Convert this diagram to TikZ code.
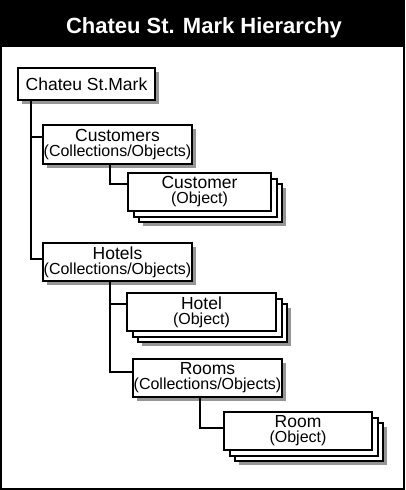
\documentclass[tikz,border=0pt]{standalone}
\usepackage{fontspec}
\setmainfont{Liberation Sans}
\usetikzlibrary{calc,shadows}
\definecolor{shgray}{RGB}{150,150,150}
\newcommand{\mainf}{\fontsize{17.5}{15}\selectfont}
\newcommand{\subf}{\fontsize{16}{15.5}\selectfont}
\begin{document}
\begin{tikzpicture}[x=1pt,y=-1pt,
  box/.style={draw=black, line width=2pt, fill=white, inner sep=0pt, outer sep=0pt,
    anchor=north west, align=center, font=\mainf},
  shadowed/.style={drop shadow={shadow xshift=4pt, shadow yshift=-4pt, fill=shgray, opacity=1}},
  wide/.style={minimum width=149pt, minimum height=38pt},
  objbox/.style={minimum width=143pt, minimum height=38pt},
  conn/.style={line width=2pt, draw=black}]
\useasboundingbox (0,0) rectangle (405,490);
% frame and title bar
\fill[black] (0,0) rectangle (405,47);
\draw[line width=2pt] (1,1) rectangle (404,489);
\node[font=\bfseries\fontsize{22}{26}\selectfont, text=white, anchor=base] (title) at (204,33) {Chateu St. Mark Hierarchy};
% root
\node[box, minimum width=137pt, minimum height=32pt, shadowed] (root) at (18,68) {Chateu St.Mark};
% customers
\node[box, wide, minimum height=39pt, shadowed] (customers) at (43,125) {Customers\\\subf (Collections/Objects)};
\node[box, objbox, shadowed] (customer3) at (139,184) {};
\node[box, objbox] (customer2) at (133.5,178.5) {};
\node[box, objbox] (customer) at (128,173) {Customer\\\subf (Object)};
% hotels
\node[box, wide, shadowed] (hotels) at (43,243) {Hotels\\\subf (Collections/Objects)};
\node[box, wide, shadowed] (hotel3) at (138,304) {};
\node[box, wide] (hotel2) at (132.5,298.5) {};
\node[box, wide] (hotel) at (127,293) {Hotel\\\subf (Object)};
% rooms
\node[box, wide, shadowed] (rooms) at (133,359) {Rooms\\\subf (Collections/Objects)};
\node[box, wide, minimum width=148pt, shadowed] (room3) at (235,423) {};
\node[box, wide, minimum width=148pt] (room2) at (229.5,417.5) {};
\node[box, wide, minimum width=148pt] (room) at (224,412) {Room\\\subf (Object)};
% connectors
\draw[conn] ($(root.south west)+(13,0)$) |- ($(customers.north west)+(0,12)$);
\draw[conn] ($(root.south west)+(13,0)$) |- ($(hotels.north west)+(0,16)$);
\draw[conn] ($(customers.south west)+(67,0)$) |- ($(customer.north west)+(0,11)$);
\draw[conn] ($(hotels.south west)+(67,0)$) |- ($(hotel.north west)+(0,11)$);
\draw[conn] ($(hotels.south west)+(67,0)$) |- ($(rooms.north west)+(0,13)$);
\draw[conn] ($(rooms.south west)+(67,0)$) |- ($(room.north west)+(0,16)$);
\end{tikzpicture}
\end{document}
